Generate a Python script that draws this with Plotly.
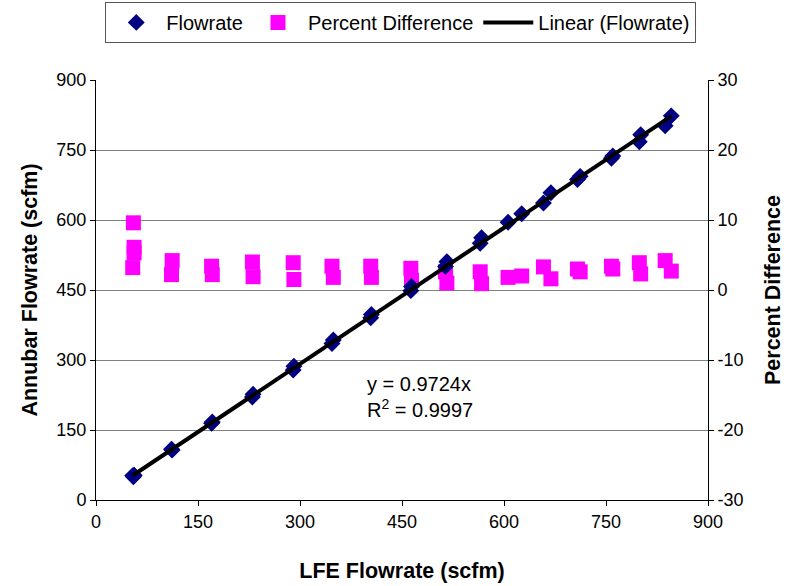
import plotly.graph_objects as go

# LFE flowrate (scfm)
lfe = [55, 56, 56, 54, 112, 111, 170, 171, 230, 231, 290, 291, 347, 349,
       404, 405, 463, 464, 514, 516, 565, 567, 606, 626, 658, 669, 708, 712,
       758, 760, 799, 801, 837, 846]
# Annubar flowrate (scfm)
annubar = [49.7, 52.6, 53.0, 52.3, 107.3, 108.6, 164.2, 167.2, 220.8, 226.6,
           278.7, 286.6, 335.2, 342.7, 390.3, 397.7, 448.6, 457.5, 500.6, 510.8,
           550.3, 561.9, 595.1, 613.5, 636.3, 658.3, 686.8, 693.5, 732.2, 737.2,
           767.8, 782.6, 801.8, 823.2]
# Percent difference
pct = [9.6, 6.1, 5.3, 3.2, 4.2, 2.2, 3.4, 2.2, 4.0, 1.9, 3.9, 1.5, 3.4, 1.8,
       3.4, 1.8, 3.1, 1.4, 2.6, 1.0, 2.6, 0.9, 1.8, 2.0, 3.3, 1.6, 3.0, 2.6,
       3.4, 3.0, 3.9, 2.3, 4.2, 2.7]

x_ticks = [0, 150, 300, 450, 600, 750, 900]
y_ticks = [0, 150, 300, 450, 600, 750, 900]
y2_ticks = [-30, -20, -10, 0, 10, 20, 30]
y2_ticktext = ["-30", "-20", "-10", "0", "10", "20", "30"]

slope = 0.9724
r2 = 0.9997
fit_x = [min(lfe), max(lfe)]
fit_y = [slope * v for v in fit_x]

FONT = "Liberation Sans, Arial, sans-serif"

fig = go.Figure()
fig.add_trace(go.Scatter(
    x=lfe, y=pct, mode="markers", name="Percent Difference",
    marker=dict(symbol="square", size=15, color="#FF00FF"),
    yaxis="y", legendrank=2))
fig.add_trace(go.Scatter(
    x=lfe, y=annubar, mode="markers", name="Flowrate",
    marker=dict(symbol="diamond", size=13, color="#000080"),
    yaxis="y2", legendrank=1))
fig.add_trace(go.Scatter(
    x=fit_x, y=fit_y, mode="lines", name="Linear (Flowrate)",
    line=dict(color="black", width=4),
    yaxis="y2", legendrank=3))

axis_common = dict(showline=True, linecolor="black", linewidth=1,
                   ticks="outside", ticklen=5, tickcolor="black",
                   tickfont=dict(family=FONT, size=18, color="black"),
                   zeroline=False)

fig.update_layout(
    width=786, height=586,
    margin=dict(l=96, r=78, t=80, b=86, autoexpand=False),
    paper_bgcolor="white", plot_bgcolor="white",
    font=dict(family=FONT, color="black"),
    xaxis=dict(range=[0, 900], tickvals=x_ticks, showgrid=False,
               title=dict(text="<b>LFE Flowrate (scfm)</b>",
                          font=dict(family=FONT, size=21.5), standoff=32),
               **axis_common),
    yaxis=dict(range=[-30, 30], tickvals=y2_ticks, ticktext=y2_ticktext,
               side="right", showgrid=False,
               title=dict(text="<b>Percent Difference</b>",
                          font=dict(family=FONT, size=21.5), standoff=22),
               **axis_common),
    yaxis2=dict(range=[0, 900], tickvals=y_ticks, side="left",
                overlaying="y", showgrid=True, gridcolor="#808080",
                gridwidth=1,
                title=dict(text="<b>Annubar Flowrate (scfm)</b>",
                           font=dict(family=FONT, size=21.5), standoff=12),
                **axis_common),
    legend=dict(orientation="h", x=0.498, xanchor="center", y=1.186,
                yanchor="top", bordercolor="#555555", borderwidth=1,
                font=dict(family=FONT, size=20, color="black"),
                bgcolor="white", itemwidth=50, tracegroupgap=0),
    showlegend=True,
    annotations=[dict(
        x=0.53, y=0.245, xref="paper", yref="paper",
        xanchor="center", yanchor="middle",
        text=f"y = {slope}x<br>R<sup>2</sup> = {r2}",
        showarrow=False, align="left",
        font=dict(family=FONT, size=20, color="black"))],
)

fig.write_html("out.html")
